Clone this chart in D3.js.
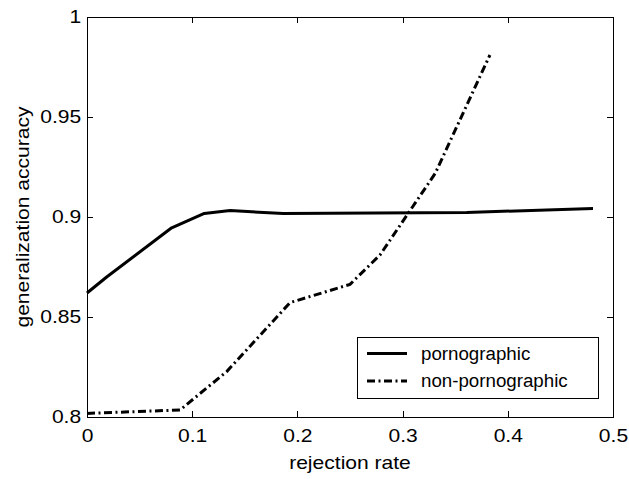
<!DOCTYPE html>
<html>
<head>
<meta charset="utf-8">
<script src="https://cdn.jsdelivr.net/npm/d3@7"></script>
<style>
  body { margin: 0; background: #fff; }
  .axis path, .axis line { stroke: #000; stroke-width: 1; shape-rendering: crispEdges; }
  .axis text { font-family: "Liberation Sans", Arial, sans-serif; font-size: 18px; fill: #000; }
</style>
</head>
<body>
<svg id="chart" width="629" height="479"></svg>
<script>
// rejection rate vs accuracy
var porn_rate = [0, 0.0187, 0.0805, 0.1115, 0.136, 0.1866, 0.361, 0.481];
var porn_acc  = [0.862, 0.870, 0.8946, 0.9018, 0.9032, 0.9017, 0.9023, 0.9042];

var nonporn_rate = [0, 0.0884, 0.1328, 0.193, 0.25, 0.2785, 0.331, 0.383];
var nonporn_acc  = [0.8018, 0.8035, 0.8227, 0.8572, 0.8663, 0.881, 0.9218, 0.981];

var series_names = ["pornographic", "non-pornographic"];
var x_ticks = [0, 0.1, 0.2, 0.3, 0.4, 0.5];
var y_ticks = [0.8, 0.85, 0.9, 0.95, 1];

var svg = d3.select("#chart");
var left = 87, right = 613, top_ = 17, bottom = 417;
var stretch = 1.17;

var xScale = d3.scaleLinear().domain([0, 0.5]).range([left, right]);
var yScale = d3.scaleLinear().domain([0.8, 1]).range([bottom, top_]);

// box with inward ticks on all four sides
svg.append("g")
    .attr("class", "axis")
    .attr("transform", "translate(0," + bottom + ")")
    .call(d3.axisBottom(xScale).tickValues(x_ticks).tickSizeInner(-6).tickSizeOuter(0)
        .tickPadding(12).tickFormat(function(d) { return d3.format("")(d); }));

svg.append("g")
    .attr("class", "axis")
    .attr("transform", "translate(" + left + ",0)")
    .call(d3.axisLeft(yScale).tickValues(y_ticks).tickSizeInner(-6).tickSizeOuter(0)
        .tickPadding(5).tickFormat(function(d) { return d3.format("")(d); }));

svg.append("g")
    .attr("class", "axis")
    .attr("transform", "translate(0," + top_ + ")")
    .call(d3.axisTop(xScale).tickValues(x_ticks).tickSizeInner(-6).tickSizeOuter(0).tickFormat(""));

svg.append("g")
    .attr("class", "axis")
    .attr("transform", "translate(" + right + ",0)")
    .call(d3.axisRight(yScale).tickValues(y_ticks).tickSizeInner(-6).tickSizeOuter(0).tickFormat(""));

// matlab text looks wider than Liberation Sans
svg.selectAll(".axis text").attr("transform", "scale(" + stretch + ",1)");

// axis titles
svg.append("text")
    .attr("transform", "translate(" + ((left + right) / 2) + ",469) scale(" + stretch + ",1)")
    .attr("text-anchor", "middle")
    .style("font-family", "'Liberation Sans', Arial, sans-serif")
    .style("font-size", "18px")
    .text("rejection rate");

svg.append("text")
    .attr("transform", "translate(29," + ((top_ + bottom) / 2) + ") rotate(-90) scale(" + stretch + ",1)")
    .attr("text-anchor", "middle")
    .style("font-family", "'Liberation Sans', Arial, sans-serif")
    .style("font-size", "18px")
    .text("generalization accuracy");

// lines
var line = d3.line()
    .x(function(d) { return xScale(d[0]); })
    .y(function(d) { return yScale(d[1]); });

var porn_data = d3.zip(porn_rate, porn_acc);
var nonporn_data = d3.zip(nonporn_rate, nonporn_acc);

svg.append("path")
    .datum(porn_data)
    .attr("d", line)
    .attr("fill", "none")
    .attr("stroke", "#000")
    .attr("stroke-width", 3)
    .attr("stroke-linejoin", "round");

svg.append("path")
    .datum(nonporn_data)
    .attr("d", line)
    .attr("fill", "none")
    .attr("stroke", "#000")
    .attr("stroke-width", 3)
    .attr("stroke-dasharray", "8,3.5,2,3.5");

// legend
var legend = svg.append("g").attr("transform", "translate(357,337)");
legend.append("rect")
    .attr("x", 0).attr("y", 0)
    .attr("width", 241).attr("height", 61)
    .attr("fill", "#fff")
    .attr("stroke", "#000")
    .attr("stroke-width", 1)
    .style("shape-rendering", "crispEdges");

var dashes = [null, "8,3.5,2,3.5"];
series_names.forEach(function(name, i) {
    var ly = 16.5 + i * 27.5;
    legend.append("line")
        .attr("x1", 10).attr("x2", 50)
        .attr("y1", ly).attr("y2", ly)
        .attr("stroke", "#000")
        .attr("stroke-width", 3)
        .attr("stroke-dasharray", dashes[i]);
    legend.append("text")
        .attr("x", 64)
        .attr("y", ly)
        .attr("dy", "0.35em")
        .style("font-family", "'Liberation Sans', Arial, sans-serif")
        .style("font-size", "18px")
        .attr("transform", "scale(1.04,1)")
        .attr("transform-origin", "64 " + ly)
        .text(name);
});
</script>
</body>
</html>
